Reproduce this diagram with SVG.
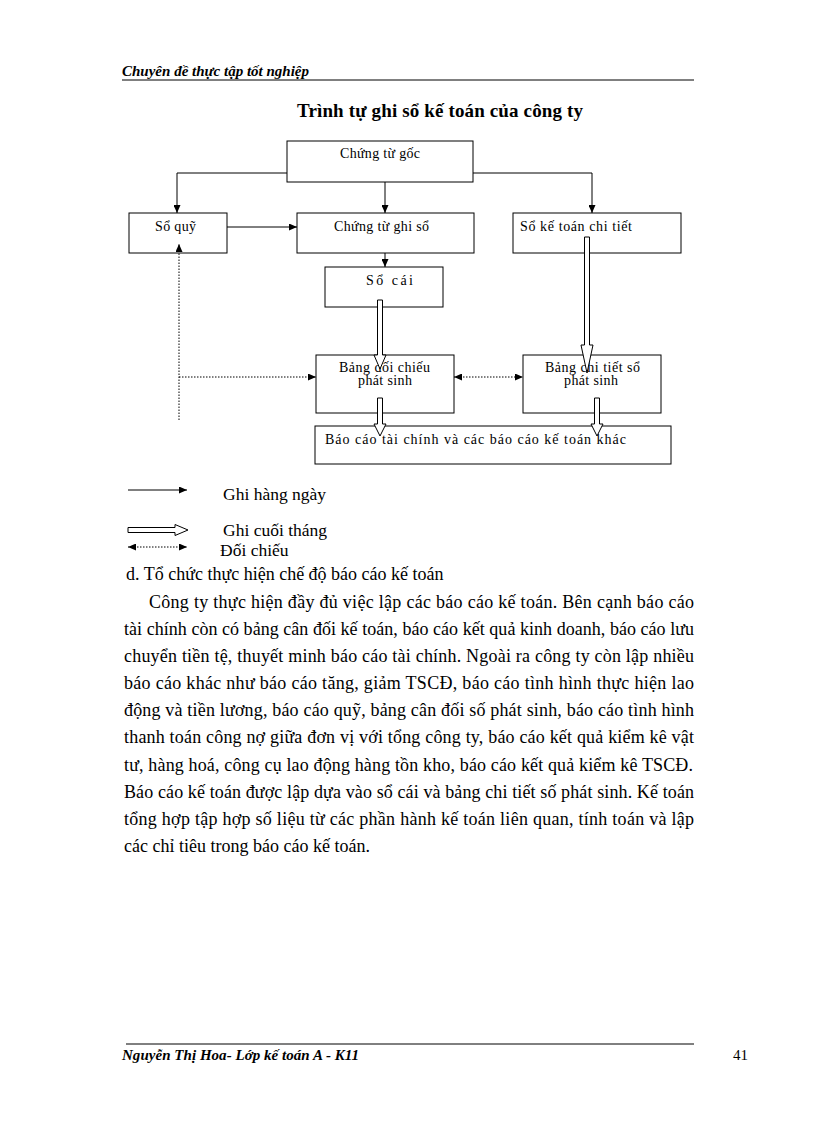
<svg xmlns="http://www.w3.org/2000/svg" width="816" height="1123" viewBox="0 0 816 1123">
<style>
  .box { fill: #fff; stroke: #000; stroke-width: 1; }
  .lbl { font-family: "Liberation Serif", "Times New Roman", serif; font-size: 14px; fill: #000; }
  .body { font-family: "Liberation Serif", "Times New Roman", serif; font-size: 18px; fill: #000; }
  .leg { font-family: "Liberation Serif", "Times New Roman", serif; font-size: 17.5px; fill: #000; }
  .hdr { font-family: "Liberation Serif", "Times New Roman", serif; font-size: 15px; font-weight: bold; font-style: italic; fill: #000; }
  .title { font-family: "Liberation Serif", "Times New Roman", serif; font-size: 19px; font-weight: bold; fill: #000; }
  .solid { fill: none; stroke: #000; stroke-width: 1; }
  .dot { fill: none; stroke: #000; stroke-width: 1; stroke-dasharray: 1.5 1.5; }
  .hollow { fill: #fff; stroke: #000; stroke-width: 1; }
  .rule { stroke: #000; stroke-width: 1; }
</style>
<defs>
  <marker id="ah" markerUnits="userSpaceOnUse" markerWidth="8" markerHeight="7" refX="8" refY="3.5" orient="auto-start-reverse">
    <path d="M0,0 L8,3.5 L0,7 z" fill="#000"/>
  </marker>
</defs>
<rect width="816" height="1123" fill="#fff"/>

<!-- header -->
<text class="hdr" x="122" y="76" textLength="187">Chuyên đề thực tập tốt nghiệp</text>
<line class="rule" x1="122" y1="80" x2="694" y2="80"/>
<text class="title" x="297" y="117" textLength="286">Trình tự ghi sổ kế toán của công ty</text>

<!-- nodes -->
<g id="chung-tu-goc">
  <rect class="box" x="287" y="141" width="186" height="41"/>
  <text class="lbl" x="340" y="158" textLength="80">Chứng từ gốc</text>
</g>
<g id="so-quy">
  <rect class="box" x="129" y="213" width="98" height="40"/>
  <text class="lbl" x="155" y="231" textLength="41">Sổ quỹ</text>
</g>
<g id="chung-tu-ghi-so">
  <rect class="box" x="297" y="213" width="177" height="40"/>
  <text class="lbl" x="334" y="231" textLength="95">Chứng từ ghi sổ</text>
</g>
<g id="so-ke-toan-chi-tiet">
  <rect class="box" x="513" y="213" width="168" height="40"/>
  <text class="lbl" x="520" y="231" textLength="112">Sổ kế toán chi tiết</text>
</g>
<g id="so-cai">
  <rect class="box" x="325" y="267" width="118" height="40"/>
  <text class="lbl" x="366" y="285" textLength="47">Sổ cái</text>
</g>
<g id="bang-doi-chieu">
  <rect class="box" x="316" y="355" width="138" height="58"/>
  <text class="lbl" x="339" y="372" textLength="91">Bảng đối chiếu</text>
  <text class="lbl" x="358" y="385" textLength="54">phát sinh</text>
</g>
<g id="bang-chi-tiet">
  <rect class="box" x="523" y="355" width="138" height="58"/>
  <text class="lbl" x="545" y="372" textLength="95">Bảng chi tiết sổ</text>
  <text class="lbl" x="564" y="385" textLength="54">phát sinh</text>
</g>
<g id="bao-cao">
  <rect class="box" x="315" y="426" width="356" height="38"/>
  <text class="lbl" x="325" y="444" textLength="301">Báo cáo tài chính và các báo cáo kế toán khác</text>
</g>

<!-- connectors -->
<g id="connectors">
  <path class="solid" d="M287,173 H177 V213" marker-end="url(#ah)"/>
  <path class="solid" d="M385,182 V213" marker-end="url(#ah)"/>
  <path class="solid" d="M473,173 H592 V213" marker-end="url(#ah)"/>
  <path class="solid" d="M227,227 H297" marker-end="url(#ah)"/>
  <path class="solid" d="M385,253 V267" marker-end="url(#ah)"/>
  <path class="dot" d="M179,420 V244" marker-end="url(#ah)"/>
  <path class="dot" d="M179,377 H316" marker-end="url(#ah)"/>
  <path class="dot" d="M454,377 H523" marker-start="url(#ah)" marker-end="url(#ah)"/>
  <polygon class="hollow" points="377.5,300 382.5,300 382.5,355 386,355 380,369 374,355 377.5,355"/>
  <polygon class="hollow" points="584.5,237 589.5,237 589.5,345 593,345 587,373 581,345 584.5,345"/>
  <polygon class="hollow" points="377.5,398 382.5,398 382.5,424 386,424 380,436 374,424 377.5,424"/>
  <polygon class="hollow" points="594.5,398 599.5,398 599.5,424 603,424 597,436 591,424 594.5,424"/>
</g>

<!-- legend -->
<g id="legend">
  <path class="solid" d="M128,490 H187" marker-end="url(#ah)"/>
  <text class="leg" x="223" y="500">Ghi hàng ngày</text>
  <polygon class="hollow" points="128,527.5 175,527.5 175,524.5 188,530 175,535.5 175,532.5 128,532.5"/>
  <text class="leg" x="223" y="536">Ghi cuối tháng</text>
  <path class="dot" d="M128,547 H187" marker-start="url(#ah)" marker-end="url(#ah)"/>
  <text class="leg" x="220" y="556">Đối chiếu</text>
</g>

<!-- body text -->
<text class="body" x="126" y="580">d. Tổ chức thực hiện  chế độ báo cáo kế toán</text>
<text class="body" x="149" y="608" textLength="545">Công ty thực hiện đầy đủ việc lập các báo cáo kế toán. Bên cạnh báo cáo</text>
<text class="body" x="124" y="635" textLength="570">tài chính còn có bảng cân đối kế toán, báo cáo kết quả kinh doanh, báo cáo lưu</text>
<text class="body" x="124" y="662" textLength="570">chuyển tiền tệ, thuyết minh báo cáo tài chính. Ngoài ra công ty còn lập nhiều</text>
<text class="body" x="124" y="689" textLength="570">báo cáo khác như báo cáo tăng, giảm TSCĐ, báo cáo tình hình thực hiện lao</text>
<text class="body" x="124" y="716" textLength="570">động và tiền lương, báo cáo quỹ, bảng cân đối số phát sinh, báo cáo tình hình</text>
<text class="body" x="124" y="743" textLength="570">thanh toán công nợ giữa đơn vị với tổng công ty, báo cáo kết quả kiểm kê vật</text>
<text class="body" x="124" y="771" textLength="569">tư, hàng hoá, công cụ lao động hàng tồn kho, báo cáo kết quả kiểm kê TSCĐ.</text>
<text class="body" x="124" y="798" textLength="570">Báo cáo kế toán được lập dựa vào sổ cái và bảng chi tiết số phát sinh. Kế toán</text>
<text class="body" x="124" y="825" textLength="570">tổng hợp tập hợp số liệu từ các phần hành kế toán liên quan, tính toán và lập</text>
<text class="body" x="124" y="852">các chỉ tiêu trong báo cáo kế toán.</text>

<!-- footer -->
<line class="rule" x1="126" y1="1044" x2="694" y2="1044"/>
<text class="hdr" x="122" y="1060" textLength="237">Nguyễn Thị Hoa- Lớp kế toán A - K11</text>
<text x="733" y="1060" font-family="Liberation Serif, serif" font-size="15" fill="#000">41</text>
</svg>
